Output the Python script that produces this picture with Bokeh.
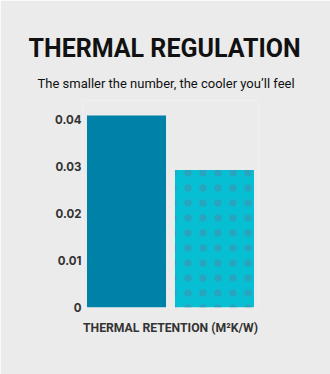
from bokeh.plotting import figure
from bokeh.models import (Title, FixedTicker, NumeralTickFormatter, ColumnDataSource,
                          FactorRange, Range1d)
from bokeh.embed import file_html
from bokeh.resources import INLINE

categories = ["Standard fabric", "Cooling fabric"]
values = [0.0409, 0.0293]
colors = ["#0081a7", "#07bfd3"]
hatches = [" ", "dot"]
y_ticks = [0, 0.01, 0.02, 0.03, 0.04]

BG = "#ebebeb"

src = ColumnDataSource(dict(cat=categories, val=values, color=colors, hatch=hatches))

p = figure(width=330, height=374, output_backend="svg", toolbar_location=None,
           x_range=FactorRange(*categories, range_padding=0),
           y_range=Range1d(0, 0.0441),
           background_fill_color=BG, border_fill_color=BG,
           min_border_left=82, min_border_right=72, min_border_top=100, min_border_bottom=67)
p.outline_line_color = None
p.grid.visible = False
p.xaxis.visible = False

p.vbar(x="cat", top="val", width=0.898, source=src, fill_color="color", line_color=None,
       hatch_pattern="hatch", hatch_color="#2aa2bc", hatch_alpha=0.9,
       hatch_scale=15, hatch_weight=1)

p.yaxis.ticker = FixedTicker(ticks=y_ticks)
p.yaxis.formatter = NumeralTickFormatter(format="0.00")
p.yaxis.major_label_overrides = {0: "0"}
p.yaxis.axis_line_color = None
p.yaxis.major_tick_line_color = None
p.yaxis.minor_tick_line_color = None
p.yaxis.major_tick_out = 0
p.yaxis.major_tick_in = 0
p.yaxis.minor_tick_out = 0
p.yaxis.major_label_standoff = 1
p.yaxis.major_label_text_font = "Inter"
p.yaxis.major_label_text_font_size = "11.5px"
p.yaxis.major_label_text_font_style = "bold"
p.yaxis.major_label_text_color = "#333333"

p.add_layout(Title(text="THERMAL RETENTION (M\u00b2K/W)", align="center",
                   text_font="Roboto", text_font_size="12.2px", text_font_style="bold",
                   text_color="#333333", standoff=23), "below")

p.add_layout(Title(text="The smaller the number, the cooler you\u2019ll feel", align="left",
                   text_font="Roboto", text_font_size="13px", text_font_style="normal",
                   text_color="#111111", standoff=20, offset=-45), "above")
p.add_layout(Title(text="THERMAL REGULATION", align="left",
                   text_font="Roboto", text_font_size="25px", text_font_style="bold",
                   text_color="#111111", standoff=1, offset=-54), "above")

open("out.html", "w").write(file_html(p, INLINE))
